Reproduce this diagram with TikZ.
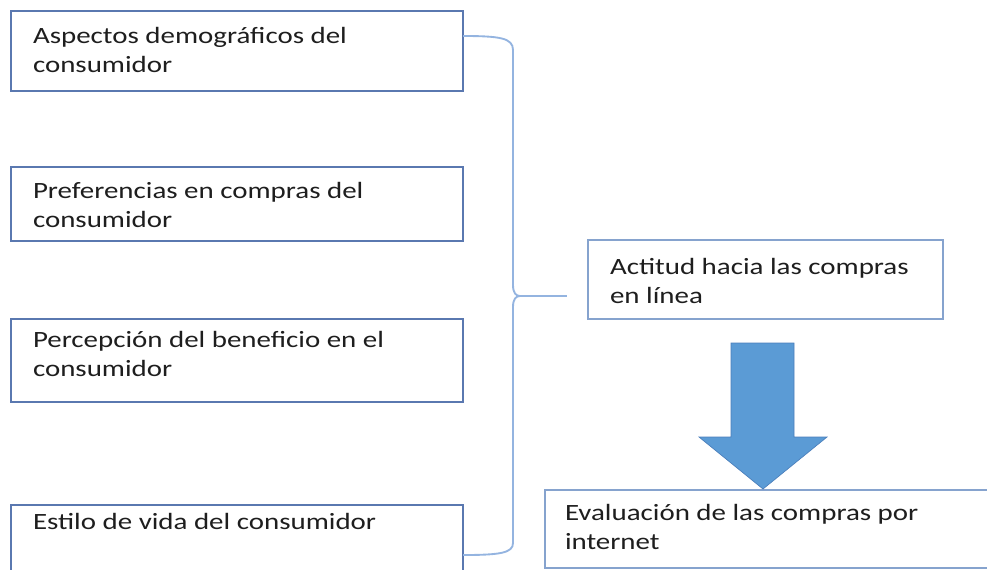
\documentclass[tikz,border=0pt]{standalone}
\usepackage{fontspec}
\usetikzlibrary{calc}
\setmainfont{Carlito}[FakeStretch=1.24]
\definecolor{boxline}{HTML}{5A78B0}
\definecolor{boxlineb}{HTML}{86A3CE}
\definecolor{braceblue}{HTML}{94B4E0}
\definecolor{arrowfill}{HTML}{5B9BD5}
\definecolor{arrowline}{HTML}{4A7EBB}
\definecolor{txt}{HTML}{1E1E1E}
\tikzset{
  leftbox/.style={draw=boxline, line width=1.1pt, fill=white, inner sep=0pt, outer sep=0pt, minimum width=339pt},
  rightbox/.style={draw=boxlineb, line width=1.1pt, fill=white, inner sep=0pt, outer sep=0pt},
  lbl/.style={anchor=base west, inner sep=0pt, outer sep=0pt, text=txt},
  bracket/.style={draw=braceblue, line width=1.4pt},
}
\newcommand{\boxtext}[1]{\parbox[t]{330pt}{\fontsize{17.5}{21.75}\selectfont #1}}
\begin{document}
\begin{tikzpicture}[x=0.75pt, y=-0.75pt]
\useasboundingbox (0,0) rectangle (987,569);
\clip (0,0) rectangle (987,569);
% left boxes
\node[leftbox, minimum height=60pt] (b1) at (237,51) {};
\node[leftbox, minimum height=55.5pt] (b2) at (237,204) {};
\node[leftbox, minimum height=62.25pt] (b3) at (237,360.5) {};
\node[leftbox, minimum height=50.25pt] (b4) at (237,538.5) {};
% right boxes
\node[rightbox, minimum width=266.25pt, minimum height=59.25pt] (ba) at (765.5,279.5) {};
\node[rightbox, minimum width=400pt, minimum height=58.5pt, anchor=west] (be) at (545,529) {};
% texts
\node[lbl] (t1) at (33,43) {\boxtext{Aspectos demográficos del\\consumidor}};
\node[lbl] (t2) at (33,198) {\boxtext{Preferencias en compras del\\consumidor}};
\node[lbl] (t3) at (33,347) {\boxtext{Percepción del beneficio en el\\consumidor}};
\node[lbl] (t4) at (33,529) {\boxtext{Estilo de vida del consumidor}};
\node[lbl] (ta) at (610,274) {\boxtext{Actitud hacia las compras\\en línea}};
\node[lbl] (te) at (565,520) {\boxtext{Evaluación de las compras por\\internet}};
% brace
\coordinate (top) at ($(b1.east)+(0,-15)$);
\coordinate (bot) at ($(b4.east)+(0,16.5)$);
\coordinate (tip) at (520,296);
\coordinate (tipend) at (567,296);
\draw[bracket] (top) .. controls (500,36) and (513,38) .. (513,50)
  -- (513,285) .. controls (513,293) and (516,296) .. (tip)
  .. controls (516,296) and (513,299) .. (513,307)
  -- (513,543) .. controls (513,553) and (500,555) .. (bot);
\draw[bracket] (tip) -- (tipend);
% block arrow
\draw[fill=arrowfill, draw=arrowline, line width=0.5pt]
  (731,343) -- (794,343) -- (794,437) -- (827,437) -- (763,489)
  -- (699,437) -- (731,437) -- cycle;
\end{tikzpicture}
\end{document}
